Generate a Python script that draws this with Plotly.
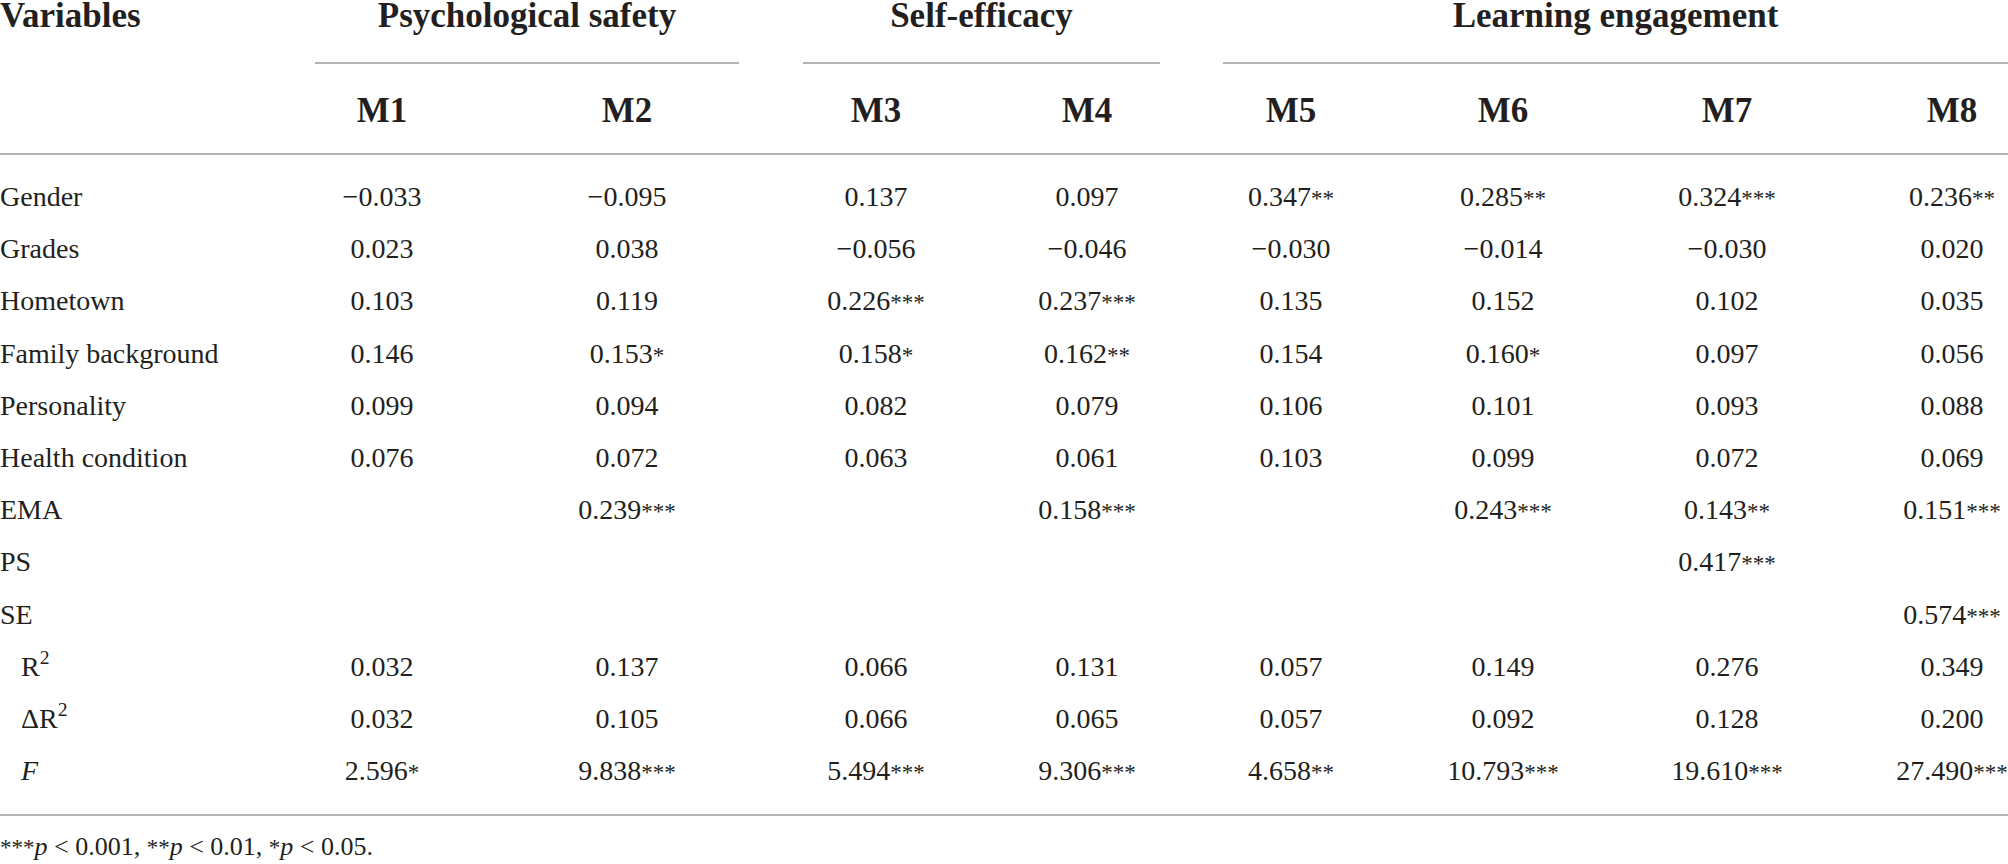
import plotly.graph_objects as go

# ---------------- data ----------------
variables = ["Gender", "Grades", "Hometown", "Family background", "Personality",
             "Health condition", "EMA", "PS", "SE", "R<sup>2</sup>", "ΔR<sup>2</sup>", "<i>F</i>"]
groups = ["Psychological safety", "Self-efficacy", "Learning engagement"]
models = ["M1", "M2", "M3", "M4", "M5", "M6", "M7", "M8"]

m1 = [-0.033, 0.023, 0.103, 0.146, 0.099, 0.076, None, None, None, 0.032, 0.032, 2.596]
m2 = [-0.095, 0.038, 0.119, 0.153, 0.094, 0.072, 0.239, None, None, 0.137, 0.105, 9.838]
m3 = [0.137, -0.056, 0.226, 0.158, 0.082, 0.063, None, None, None, 0.066, 0.066, 5.494]
m4 = [0.097, -0.046, 0.237, 0.162, 0.079, 0.061, 0.158, None, None, 0.131, 0.065, 9.306]
m5 = [0.347, -0.030, 0.135, 0.154, 0.106, 0.103, None, None, None, 0.057, 0.057, 4.658]
m6 = [0.285, -0.014, 0.152, 0.160, 0.101, 0.099, 0.243, None, None, 0.149, 0.092, 10.793]
m7 = [0.324, -0.030, 0.102, 0.097, 0.093, 0.072, 0.143, 0.417, None, 0.276, 0.128, 19.610]
m8 = [0.236, 0.020, 0.035, 0.056, 0.088, 0.069, 0.151, None, 0.574, 0.349, 0.200, 27.490]

s1 = ["", "", "", "", "", "", "", "", "", "", "", "*"]
s2 = ["", "", "", "*", "", "", "***", "", "", "", "", "***"]
s3 = ["", "", "***", "*", "", "", "", "", "", "", "", "***"]
s4 = ["", "", "***", "**", "", "", "***", "", "", "", "", "***"]
s5 = ["**", "", "", "", "", "", "", "", "", "", "", "**"]
s6 = ["**", "", "", "*", "", "", "***", "", "", "", "", "***"]
s7 = ["***", "", "", "", "", "", "**", "***", "", "", "", "***"]
s8 = ["**", "", "", "", "", "", "***", "", "***", "", "", "***"]

foot_levels = [("***", "0.001"), ("**", "0.01"), ("*", "0.05")]

values = [m1, m2, m3, m4, m5, m6, m7, m8]
stars = [s1, s2, s3, s4, s5, s6, s7, s8]

# ---------------- layout constants ----------------
W, H = 2008, 864
COL_X = [382, 627, 876, 1087, 1291, 1503, 1727, 1952]
GROUP_SPANS = [(315, 739), (803, 1160), (1223, 2008)]
ROW_Y0, ROW_DY = 199, 52.2
HEAD_Y, MODEL_Y = 18, 113
LINE_GROUP_Y, LINE_HEAD_Y, LINE_BOTTOM_Y = 63, 154, 815
FOOT_Y = 848
INDENT = [0] * 9 + [21] * 3
FONT = "Liberation Serif, Times New Roman, serif"
TXT = "#231f20"
RULE = "#b4b4b4"
BODY = 28
HEADSZ = 35
STAR = '<span style="font-size:23px">{}</span>'


def fmt(v, s):
    txt = f"{v:.3f}".replace("-", "\u2212")
    return txt + (STAR.format(s) if s else "")


row_y = [ROW_Y0 + i * ROW_DY for i in range(len(variables))]

fig = go.Figure()

# variable labels
fig.add_trace(go.Scatter(
    x=INDENT, y=row_y, mode="text", text=variables, textposition="middle right",
    textfont=dict(family=FONT, size=BODY, color=TXT), cliponaxis=False, hoverinfo="skip"))

# model columns (only filled cells)
for j, (vals, st) in enumerate(zip(values, stars)):
    ys, ts = [], []
    for i, (v, s) in enumerate(zip(vals, st)):
        if v is None:
            continue
        ys.append(row_y[i])
        ts.append(fmt(v, s))
    fig.add_trace(go.Scatter(
        x=[COL_X[j]] * len(ys), y=ys, mode="text", text=ts, textposition="middle center",
        textfont=dict(family=FONT, size=BODY, color=TXT), cliponaxis=False, hoverinfo="skip"))

# header: Variables
fig.add_trace(go.Scatter(
    x=[0], y=[HEAD_Y], mode="text", text=["<b>Variables</b>"], textposition="middle right",
    textfont=dict(family=FONT, size=HEADSZ, color=TXT), cliponaxis=False, hoverinfo="skip"))

# group headers
fig.add_trace(go.Scatter(
    x=[(a + b) / 2 for a, b in GROUP_SPANS], y=[HEAD_Y] * len(groups), mode="text",
    text=[f"<b>{g}</b>" for g in groups], textposition="middle center",
    textfont=dict(family=FONT, size=HEADSZ, color=TXT), cliponaxis=False, hoverinfo="skip"))

# model headers
fig.add_trace(go.Scatter(
    x=COL_X, y=[MODEL_Y] * len(models), mode="text",
    text=[f"<b>{m}</b>" for m in models], textposition="middle center",
    textfont=dict(family=FONT, size=HEADSZ, color=TXT), cliponaxis=False, hoverinfo="skip"))

# footnote
footnote = ", ".join(f"{STAR.format(s)}<i>p</i> < {p}" for s, p in foot_levels) + "."
fig.add_trace(go.Scatter(
    x=[0], y=[FOOT_Y], mode="text", text=[footnote], textposition="middle right",
    textfont=dict(family=FONT, size=26, color=TXT), cliponaxis=False, hoverinfo="skip"))

shapes = []
for a, b in GROUP_SPANS:
    shapes.append(dict(type="line", xref="x", yref="y", x0=a, x1=b, y0=LINE_GROUP_Y, y1=LINE_GROUP_Y,
                       line=dict(color=RULE, width=2)))
for yy in (LINE_HEAD_Y, LINE_BOTTOM_Y):
    shapes.append(dict(type="line", xref="x", yref="y", x0=0, x1=W, y0=yy, y1=yy,
                       line=dict(color=RULE, width=2)))

fig.update_layout(
    width=W, height=H, margin=dict(l=0, r=0, t=0, b=0),
    paper_bgcolor="white", plot_bgcolor="white", showlegend=False,
    shapes=shapes,
    xaxis=dict(range=[0, W], visible=False, fixedrange=True),
    yaxis=dict(range=[H, 0], visible=False, fixedrange=True),
)

fig.write_html(
    "out.html",
    config={"displayModeBar": False},
    post_script="document.body.style.margin='0';document.body.style.overflow='hidden';",
)
